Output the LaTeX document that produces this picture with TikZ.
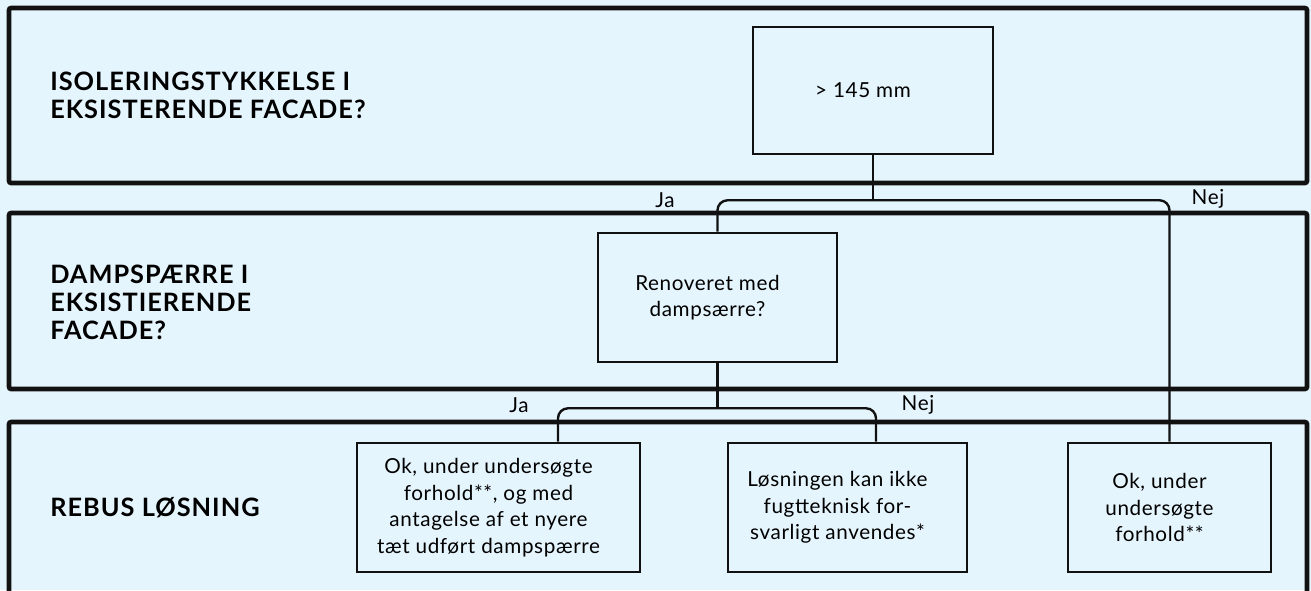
\documentclass[tikz,border=0pt]{standalone}
\usepackage{fontspec}
\setmainfont{Lato}
\newfontfamily\boxfont[LetterSpace=3]{Lato}
\newfontfamily\titlefont[LetterSpace=4]{Lato}
\usetikzlibrary{calc}
\definecolor{paper}{HTML}{E5F5FD}
\definecolor{ink}{HTML}{111111}
\tikzset{line join=round,
  band/.style={draw=ink,line width=3.4pt,rounded corners=1.5pt},
  bandtitle/.style={anchor=west,align=left,inner sep=0pt,
    font=\titlefont\fontsize{19}{21}\selectfont\bfseries},
  decision/.style={draw=ink,line width=1.9pt,minimum height=96.75pt,inner sep=0pt},
  boxtext/.style={align=center,inner sep=0pt,font=\boxfont\fontsize{15.5}{20}\selectfont},
  link/.style={draw=ink,line width=1.8pt,rounded corners=7.5pt},
  answer/.style={inner sep=0pt,font=\boxfont\fontsize{15.5}{20}\selectfont}}

\begin{document}
\begin{tikzpicture}[x=.75pt,y=-.75pt]
\useasboundingbox (0,0) rectangle (1311,590);
\fill[paper] (0,0) rectangle (1311,590);
\clip (0,0) rectangle (1311,590);
% the three question bands
\draw[band] (9,8) rectangle (1307,183);
\draw[band] (9,213) rectangle (1307,389);
\draw[band] (9,422) rectangle (1307,596);
\node[bandtitle] (q1) at (50,95.5) {ISOLERINGSTYKKELSE I\\EKSISTERENDE FACADE?};
\node[bandtitle] (q2) at (50,302) {DAMPSPÆRRE I\\EKSISTIERENDE\\FACADE?};
\node[bandtitle] (q3) at (50,508) {REBUS LØSNING};
% boxes, text sits a little left of centre
\node[decision,minimum width=180pt,minimum height=95.25pt] (iso) at (873,90.5) {};
\node[boxtext] (isotxt) at ($(iso)+(-10,0)$) {> 145 mm};
\node[decision,minimum width=179.25pt] (damp) at (717.5,297.5) {};
\node[boxtext] (damptxt) at ($(damp)+(-10,0)$) {Renoveret med\\dampsærre?};
\node[decision,minimum width=212.25pt] (okA) at (498.5,507.5) {};
\node[boxtext] (okAtxt) at ($(okA)+(-10,0)$) {Ok, under undersøgte\\forhold**, og med\\antagelse af et nyere\\tæt udført dampspærre};
\node[decision,minimum width=179.25pt] (nogo) at (847.5,507.5) {};
\node[boxtext] (nogotxt) at ($(nogo)+(-10,0)$) {Løsningen kan ikke\\fugtteknisk for-\\svarligt anvendes*};
\node[decision,minimum width=152.25pt] (okC) at (1169.5,507.5) {};
\node[boxtext] (okCtxt) at ($(okC)+(-10,0)$) {Ok, under\\undersøgte\\forhold**};
% branches
\draw[link] (iso.south) -- ++(0,45) coordinate (split1);
\draw[link] (damp.north) |- (split1) -| (okC.north);
\draw[link] (damp.south) -- ++(0,45) coordinate (split2);
\draw[link] ($(okA.north)+(59.5,0)$) |- (split2) -| ($(nogo.north)+(28.5,0)$);
\node[answer] (ja1) at (665,200) {Ja};
\node[answer] (nej1) at (1208,199) {Nej};
\node[answer] (ja2) at (519,405) {Ja};
\node[answer] (nej2) at (918,405) {Nej};
\end{tikzpicture}
\end{document}
